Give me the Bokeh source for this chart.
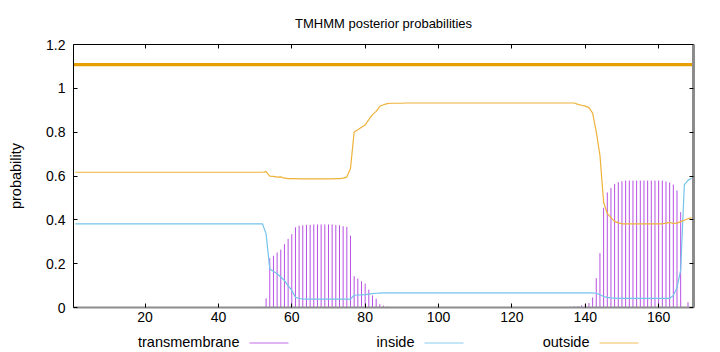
from bokeh.plotting import figure
from bokeh.models import (ColumnDataSource, Range1d, FixedTicker, NumeralTickFormatter,
                          LinearAxis)
from bokeh.layouts import column
from bokeh.embed import file_html
from bokeh.resources import INLINE
from bokeh.core.properties import value

FONT = "Liberation Sans"

# ---------------- data ----------------
residue = list(range(1, 170))

transmembrane = [
    0, 0, 0, 0, 0, 0, 0, 0, 0, 0, 0, 0, 0,
    0, 0, 0, 0, 0, 0, 0, 0, 0, 0, 0, 0, 0,
    0, 0, 0, 0, 0, 0, 0, 0, 0, 0, 0, 0, 0,
    0, 0, 0, 0, 0, 0, 0, 0, 0, 0.001, 0.002, 0.002, 0.003,
    0.042, 0.225, 0.236, 0.251, 0.264, 0.289, 0.313, 0.335, 0.366, 0.373, 0.375, 0.377, 0.377,
    0.379, 0.379, 0.379, 0.379, 0.379, 0.379, 0.376, 0.375, 0.371, 0.368, 0.328, 0.143, 0.132,
    0.120, 0.109, 0.082, 0.055, 0.040, 0.015, 0.008, 0.004, 0.002, 0, 0, 0, 0,
    0, 0, 0, 0, 0, 0, 0, 0, 0, 0, 0, 0, 0,
    0, 0, 0, 0, 0, 0, 0, 0, 0, 0, 0, 0, 0,
    0, 0, 0, 0, 0, 0, 0, 0, 0, 0, 0, 0, 0,
    0, 0, 0, 0.002, 0.003, 0.004, 0.005, 0.006, 0.010, 0.014, 0.021, 0.046, 0.134,
    0.248, 0.455, 0.525, 0.546, 0.564, 0.572, 0.576, 0.579, 0.579, 0.579, 0.579, 0.579, 0.579,
    0.579, 0.579, 0.579, 0.579, 0.579, 0.575, 0.570, 0.561, 0.534, 0.435, 0, 0.024, 0,
]

inside = [
    0.382, 0.382, 0.382, 0.382, 0.382, 0.382, 0.382, 0.382, 0.382, 0.382, 0.382, 0.382, 0.382,
    0.382, 0.382, 0.382, 0.382, 0.382, 0.382, 0.382, 0.382, 0.382, 0.382, 0.382, 0.382, 0.382,
    0.382, 0.382, 0.382, 0.382, 0.382, 0.382, 0.382, 0.382, 0.382, 0.382, 0.382, 0.382, 0.382,
    0.382, 0.382, 0.382, 0.382, 0.382, 0.382, 0.382, 0.382, 0.382, 0.382, 0.382, 0.382, 0.382,
    0.336, 0.176, 0.165, 0.154, 0.139, 0.123, 0.100, 0.078, 0.047, 0.041, 0.039, 0.038, 0.038,
    0.038, 0.038, 0.038, 0.038, 0.038, 0.038, 0.038, 0.038, 0.038, 0.038, 0.038, 0.056, 0.057,
    0.058, 0.059, 0.061, 0.063, 0.065, 0.066, 0.067, 0.067, 0.067, 0.067, 0.067, 0.067, 0.067,
    0.067, 0.067, 0.067, 0.067, 0.067, 0.067, 0.067, 0.067, 0.067, 0.067, 0.067, 0.067, 0.067,
    0.067, 0.067, 0.067, 0.067, 0.067, 0.067, 0.067, 0.067, 0.067, 0.067, 0.067, 0.067, 0.067,
    0.067, 0.067, 0.067, 0.067, 0.067, 0.067, 0.067, 0.067, 0.067, 0.067, 0.067, 0.067, 0.067,
    0.067, 0.067, 0.067, 0.067, 0.067, 0.067, 0.067, 0.067, 0.067, 0.067, 0.067, 0.067, 0.065,
    0.058, 0.050, 0.046, 0.044, 0.043, 0.042, 0.042, 0.042, 0.042, 0.042, 0.042, 0.042, 0.042,
    0.042, 0.042, 0.042, 0.042, 0.042, 0.042, 0.042, 0.055, 0.090, 0.170, 0.560, 0.580, 0.590,
]

outside = [
    0.617, 0.617, 0.617, 0.617, 0.617, 0.617, 0.617, 0.617, 0.617, 0.617, 0.617, 0.617, 0.617,
    0.617, 0.617, 0.617, 0.617, 0.617, 0.617, 0.617, 0.617, 0.617, 0.617, 0.617, 0.617, 0.617,
    0.617, 0.617, 0.617, 0.617, 0.617, 0.617, 0.617, 0.617, 0.617, 0.617, 0.617, 0.617, 0.617,
    0.617, 0.617, 0.617, 0.617, 0.617, 0.617, 0.617, 0.617, 0.617, 0.617, 0.617, 0.617, 0.617,
    0.620, 0.599, 0.598, 0.595, 0.596, 0.590, 0.588, 0.588, 0.588, 0.587, 0.587, 0.587, 0.587,
    0.587, 0.587, 0.587, 0.587, 0.587, 0.587, 0.588, 0.588, 0.590, 0.595, 0.634, 0.801, 0.811,
    0.822, 0.833, 0.857, 0.880, 0.895, 0.918, 0.925, 0.930, 0.932, 0.932, 0.932, 0.932, 0.933,
    0.933, 0.933, 0.933, 0.933, 0.933, 0.933, 0.933, 0.933, 0.933, 0.933, 0.933, 0.933, 0.933,
    0.933, 0.933, 0.933, 0.933, 0.933, 0.933, 0.933, 0.933, 0.933, 0.933, 0.933, 0.933, 0.933,
    0.933, 0.933, 0.933, 0.933, 0.933, 0.933, 0.933, 0.933, 0.933, 0.933, 0.933, 0.933, 0.933,
    0.933, 0.933, 0.933, 0.933, 0.933, 0.933, 0.933, 0.927, 0.923, 0.919, 0.912, 0.887, 0.801,
    0.694, 0.480, 0.429, 0.410, 0.393, 0.386, 0.382, 0.382, 0.382, 0.382, 0.382, 0.382, 0.382,
    0.382, 0.382, 0.382, 0.382, 0.382, 0.385, 0.388, 0.384, 0.385, 0.392, 0.398, 0.405, 0.410,
]

# predicted topology (outside over the whole sequence) drawn as a thick bar at the top
topology_start = [0.5]
topology_end = [169.5]
topology_level = [1.108]

legend_labels = ["transmembrane", "inside", "outside"]
x_ticks = [20, 40, 60, 80, 100, 120, 140, 160]
y_ticks = [0, 0.2, 0.4, 0.6, 0.8, 1, 1.2]

C_TM = "#b850e4"
C_IN = "#74c4ec"
C_OUT = "#eeb23a"
C_TOPO = "#e69f00"
C_GRAY = "#8c8c8c"
series_colors = [C_TM, C_IN, C_OUT]

src = ColumnDataSource(dict(x=residue, tm=transmembrane, inside=inside, outside=outside,
                            zero=[0] * len(residue)))

p = figure(width=720, height=330, x_range=Range1d(0.5, 169.5), y_range=Range1d(0, 1.2),
           output_backend="svg", toolbar_location=None,
           title="TMHMM posterior probabilities",
           min_border_left=73, min_border_right=27, min_border_top=44, min_border_bottom=23)
p.background_fill_color = "white"
p.border_fill_color = "white"
p.outline_line_color = None
p.xgrid.visible = False
p.ygrid.visible = False

p.title.align = "center"
p.title.text_font = FONT
p.title.text_font_size = "13px"
p.title.text_font_style = "normal"
p.title.text_color = "#000000"
p.title.standoff = 27

# impulses for transmembrane
p.segment(x0="x", y0="zero", x1="x", y1="tm", source=src, line_color=C_TM, line_width=1)
p.line("x", "inside", source=src, line_color=C_IN, line_width=1.2)
p.line("x", "outside", source=src, line_color=C_OUT, line_width=1.2)
p.segment(x0=topology_start, y0=topology_level, x1=topology_end, y1=topology_level,
          line_color=C_TOPO, line_width=3.2)

# axes
xa = p.xaxis[0]
xa.ticker = FixedTicker(ticks=x_ticks)
ya = p.yaxis[0]
ya.ticker = FixedTicker(ticks=y_ticks)
ya.formatter = NumeralTickFormatter(format="0.[0]")
ya.axis_label = "probability"

for ax in (xa, ya):
    ax.major_tick_in = 4
    ax.major_tick_out = 0
    ax.minor_tick_line_color = None
    ax.major_label_text_font = FONT
    ax.major_label_text_font_size = "14px"
    ax.major_label_text_color = "#000000"
    ax.major_tick_line_color = "#000000"
    ax.axis_label_text_font = FONT
    ax.axis_label_text_font_size = "14.5px"
    ax.axis_label_text_font_style = "normal"
    ax.axis_label_text_color = "#000000"

xa.axis_line_color = C_GRAY
xa.axis_line_width = 2
xa.major_label_standoff = 4
ya.axis_line_color = "#000000"
ya.axis_line_width = 1
ya.major_label_standoff = 8
ya.axis_label_standoff = 19

top = LinearAxis(ticker=FixedTicker(ticks=x_ticks), major_tick_in=4, major_tick_out=0,
                 minor_tick_line_color=None, major_label_text_color=None,
                 major_label_text_font_size="1px", major_label_standoff=0,
                 axis_line_color="#000000", axis_line_width=1)
right = LinearAxis(ticker=FixedTicker(ticks=y_ticks), major_tick_in=4, major_tick_out=0,
                   minor_tick_line_color=None, major_label_text_color=None,
                   major_label_text_font_size="1px", major_label_standoff=0,
                   axis_line_color=C_GRAY, axis_line_width=3)
p.add_layout(top, "above")
p.add_layout(right, "right")

# legend strip (text then line sample, gnuplot style); x range in page pixels of the frame
lg = figure(width=720, height=22, x_range=Range1d(73, 693), y_range=Range1d(0, 22),
            output_backend="svg", toolbar_location=None,
            min_border_left=73, min_border_right=27, min_border_top=0, min_border_bottom=0)
lg.axis.visible = False
lg.xgrid.visible = False
lg.ygrid.visible = False
lg.outline_line_color = None
lg.background_fill_color = "white"
lg.border_fill_color = "white"

label_right = [239, 414, 589]
sample_start = [249, 424, 599]
sample_end = [288, 463, 638]
for lab, tx, sx0, sx1, col in zip(legend_labels, label_right, sample_start, sample_end,
                                  series_colors):
    lg.text(x=[tx], y=[10.5], text=[lab], text_align="right", text_baseline="middle",
            text_font=value(FONT), text_font_size="14.5px", text_color="#000000")
    lg.segment(x0=[sx0], y0=[9.5], x1=[sx1], y1=[9.5], line_color=col, line_width=1,
               line_alpha=0.85)

layout = column(p, lg, spacing=0)
open("out.html", "w").write(file_html(layout, INLINE))
